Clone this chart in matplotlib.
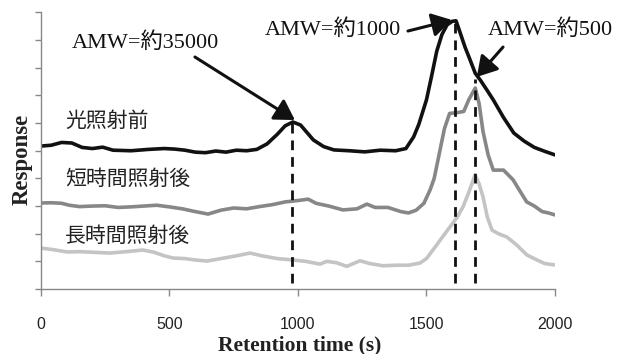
import matplotlib
matplotlib.use('Agg')
import matplotlib.pyplot as plt

# retention time (s) / response for each trace
t_before = [0, 40, 80, 120, 160, 200, 240, 280, 350, 420, 480, 520, 560, 600, 640, 680, 720, 760, 800,
            840, 880, 920, 950, 980, 1010, 1060, 1100, 1140, 1200, 1260, 1320, 1380, 1420, 1450, 1470,
            1500, 1520, 1540, 1560, 1580, 1600, 1615, 1630, 1650, 1670, 1690, 1710, 1735, 1760, 1800,
            1840, 1880, 1920, 1960, 2000]
y_before = [5.17, 5.2, 5.3, 5.28, 5.12, 5.08, 5.13, 5.02, 5.0, 5.05, 5.08, 5.06, 5.02, 4.95, 4.93, 4.99,
            4.95, 5.02, 5.0, 5.05, 5.25, 5.6, 5.9, 6.04, 5.93, 5.39, 5.15, 5.03, 5.0, 4.96, 5.02, 5.0,
            5.08, 5.5, 5.95, 6.84, 7.7, 8.6, 9.2, 9.55, 9.68, 9.7, 9.3, 8.75, 8.28, 7.8, 7.55, 7.2,
            6.84, 6.2, 5.64, 5.35, 5.12, 4.98, 4.85]

t_short = [0, 40, 80, 110, 150, 200, 250, 300, 350, 400, 450, 500, 550, 600, 650, 700, 750, 800, 850,
           900, 950, 1000, 1040, 1070, 1120, 1175, 1230, 1268, 1300, 1350, 1400, 1430, 1460, 1490, 1514,
           1530, 1550, 1570, 1590, 1620, 1645, 1665, 1690, 1705, 1720, 1740, 1760, 1800, 1837, 1860,
           1890, 1920, 1950, 1975, 2000]
y_short = [3.11, 3.12, 3.1, 3.03, 2.98, 3.0, 3.01, 2.95, 2.97, 3.0, 3.03, 2.97, 2.9, 2.8, 2.71, 2.85,
           2.93, 2.9, 2.98, 3.05, 3.15, 3.2, 3.25, 3.1, 3.0, 2.86, 2.9, 3.07, 2.95, 2.95, 2.8, 2.75,
           2.85, 3.1, 3.58, 4.0, 4.9, 5.8, 6.35, 6.38, 6.42, 6.85, 7.27, 6.7, 5.7, 4.85, 4.3, 4.3,
           3.95, 3.6, 3.15, 3.0, 2.8, 2.75, 2.68]

t_long = [0, 50, 101, 150, 200, 268, 330, 397, 440, 480, 514, 560, 600, 646, 700, 760, 813, 860, 920,
          981, 1030, 1086, 1112, 1150, 1190, 1241, 1280, 1331, 1380, 1430, 1475, 1500, 1525, 1560, 1591,
          1620, 1642, 1665, 1689, 1705, 1720, 1737, 1755, 1780, 1813, 1850, 1891, 1930, 1960, 2000]
y_long = [1.48, 1.42, 1.34, 1.35, 1.33, 1.3, 1.35, 1.41, 1.33, 1.2, 1.12, 1.1, 1.05, 1.01, 1.1, 1.2,
          1.3, 1.2, 1.1, 1.05, 1.0, 0.9, 1.0, 0.95, 0.82, 1.02, 0.92, 0.84, 0.86, 0.86, 0.94, 1.1,
          1.41, 1.85, 2.24, 2.6, 2.97, 3.5, 4.12, 3.8, 3.33, 2.6, 2.13, 2.0, 1.88, 1.6, 1.23, 1.05,
          0.92, 0.87]

trace_labels = ['光照射前', '短時間照射後', '長時間照射後']
peak_times = [977, 1611, 1689]
peak_tops = [6.04, 9.69, 7.6]
peak_texts = ['AMW=約35000', 'AMW=約1000', 'AMW=約500']
xticks = [0, 500, 1000, 1500, 2000]

serif_cjk = ['Liberation Serif', 'Noto Sans CJK JP']

fig = plt.figure(figsize=(6.26, 3.54), dpi=100)
ax = fig.add_axes([0.0655, 0.1836, 0.821, 0.7811])

line_kw = dict(lw=2.6, solid_joinstyle='round', solid_capstyle='round')
ax.plot(t_before, y_before, color='#111111', **line_kw)
ax.plot(t_short, y_short, color='#878787', **line_kw)
ax.plot(t_long, y_long, color='#c4c4c4', **line_kw)

for xt, top in zip(peak_times, peak_tops):
    ax.plot([xt, xt], [0.2, top], color='#111111', lw=2.0, ls=(0, (3.5, 2.5)))

ax.set_xlim(0, 2000)
ax.set_ylim(0, 10)
ax.set_xticks(xticks)
ax.set_xticklabels([str(v) for v in xticks], family='Liberation Sans', fontsize=11.5, color='#222222')
ax.set_yticks(range(11))
ax.set_yticklabels([])
ax.tick_params(axis='x', length=5, width=1, color='#888888', pad=15)
ax.tick_params(axis='y', length=4.5, width=1, color='#888888')
for s in ['top', 'right']:
    ax.spines[s].set_visible(False)
for s in ['left', 'bottom']:
    ax.spines[s].set_color('#888888')
    ax.spines[s].set_linewidth(1)

# trace labels
label_y = [6.04, 3.94, 1.88]
for txt, yy in zip(trace_labels, label_y):
    ax.text(93, yy, txt, family=serif_cjk, fontsize=15, va='center', ha='left', color='#222222')

# molecular weight annotations
text_pos = [(405, 8.9), (1136, 9.37), (1984, 9.37)]
arrow_tail = [(599, 8.39), (1428, 9.33), (1798, 8.75)]
arrow_head = [(988, 6.11), (1599, 9.73), (1696, 7.67)]
for txt, tp, tail, head in zip(peak_texts, text_pos, arrow_tail, arrow_head):
    ax.text(tp[0], tp[1], txt, family=serif_cjk, fontsize=16, ha='center', va='center',
            color='#111111', clip_on=False)
    ax.annotate('', xy=head, xytext=tail,
                arrowprops=dict(arrowstyle='-|>,head_length=0.5,head_width=0.3', color='#111111',
                                lw=2.2, mutation_scale=24, shrinkA=0, shrinkB=0))

fig.text(0.478, 0.025, 'Retention time (s)', family='Liberation Serif', fontweight='bold',
         fontsize=15.5, ha='center', va='center', color='#222222')
fig.text(0.035, 0.551, 'Response', family='Liberation Serif', fontweight='bold',
         fontsize=16.5, ha='center', va='center', rotation=90, color='#222222')

fig.savefig('out.png', dpi=100)
